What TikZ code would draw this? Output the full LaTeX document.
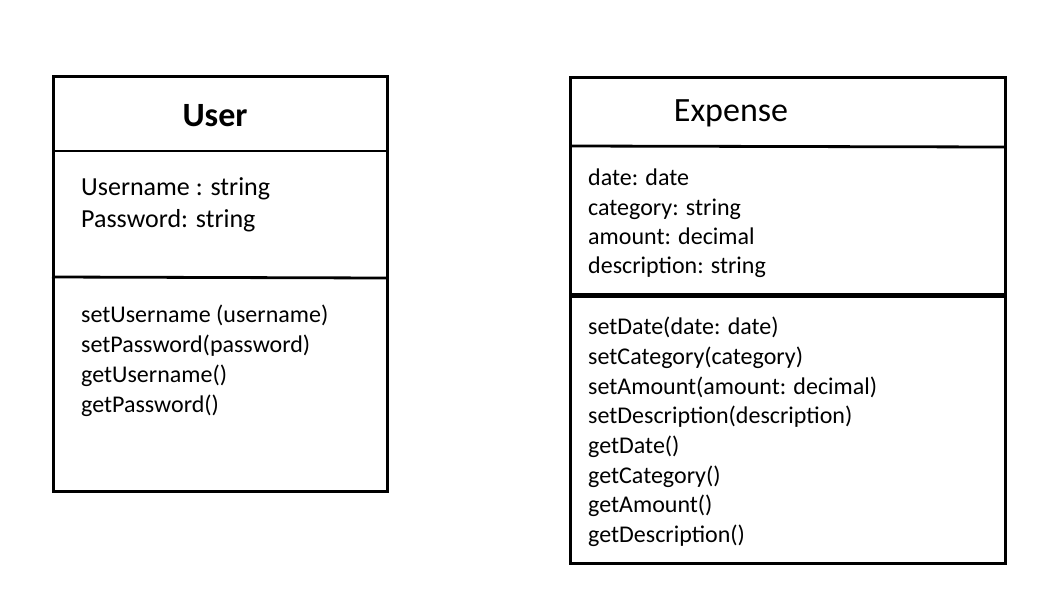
\documentclass[tikz,border=0pt]{standalone}
\usepackage{fontspec}
\setmainfont{Carlito}
\begin{document}
\begin{tikzpicture}[x=1pt,y=-1pt,
  box/.style={draw=black,line width=2.8pt,anchor=north west,inner sep=0pt},
  divider/.style={draw=black,line width=2.8pt},
  thickdivider/.style={draw=black,line width=4.4pt},
  title/.style={anchor=base,inner sep=0pt,font=\fontsize{34}{40}\selectfont},
  txt/.style={anchor=base west,inner sep=0pt,font=\fontsize{24}{29}\selectfont},
  bigtxt/.style={anchor=base west,inner sep=0pt,font=\fontsize{26}{31}\selectfont}]
\useasboundingbox (0,0) rectangle (1054,600);
% User class
\node[box,minimum width=334pt,minimum height=415pt] (user) at (52,75) {};
\coordinate (u1l) at (52,151); \coordinate (u1r) at (386,151);
\coordinate (u2l) at (52,277); \coordinate (u2r) at (386,278);
\draw[divider] (u1l) -- (u1r);
\draw[divider] (u2l) -- (u2r);
\node[title,font=\fontsize{34}{40}\selectfont\bfseries] (utitle) at (215,126) {User};
\node[bigtxt] (ua1) at (81,195) {Username : string};
\node[bigtxt] (ua2) at (81,227) {Password: string};
\node[txt] (um1) at (81,322) {setUsername (username)};
\node[txt] (um2) at (81,352) {setPassword(password)};
\node[txt] (um3) at (81,382) {getUsername()};
\node[txt] (um4) at (81,412) {getPassword()};
% Expense class
\node[box,minimum width=435pt,minimum height=486pt] (expense) at (569,76) {};
\coordinate (e1l) at (569,146); \coordinate (e1r) at (1004,147);
\coordinate (e2l) at (569,295.5); \coordinate (e2r) at (1004,295.5);
\draw[divider] (e1l) -- (e1r);
\draw[thickdivider] (e2l) -- (e2r);
\node[title] (etitle) at (731,121.5) {Expense};
\node[txt] (ea1) at (588,185) {date: date};
\node[txt] (ea2) at (588,215) {category: string};
\node[txt] (ea3) at (588,244) {amount: decimal};
\node[txt] (ea4) at (588,273) {description: string};
\node[txt] (em1) at (588,334) {setDate(date: date)};
\node[txt] (em2) at (588,364) {setCategory(category)};
\node[txt] (em3) at (588,394) {setAmount(amount: decimal)};
\node[txt] (em4) at (588,423) {setDescription(description)};
\node[txt] (em5) at (588,453) {getDate()};
\node[txt] (em6) at (588,483) {getCategory()};
\node[txt] (em7) at (588,512) {getAmount()};
\node[txt] (em8) at (588,542) {getDescription()};
\end{tikzpicture}
\end{document}
